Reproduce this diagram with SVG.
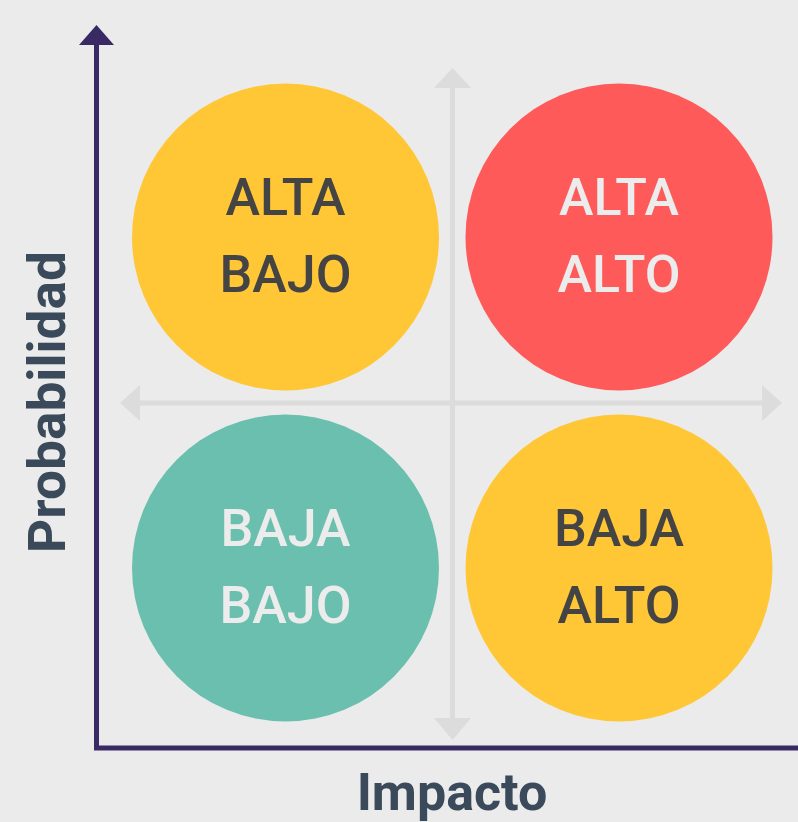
<svg xmlns="http://www.w3.org/2000/svg" width="798" height="822" viewBox="0 0 798 822">
<style>
.lbl{font-family:Roboto,"Liberation Sans",sans-serif;font-size:52px;font-weight:500;text-anchor:middle}
.dark{fill:#444444}
.light{fill:#ececec}
.axislbl{font-family:Roboto,"Liberation Sans",sans-serif;font-size:52px;font-weight:bold;fill:#3a4a5b;text-anchor:middle}
.grid{stroke:#dcdcdc;stroke-width:5;fill:none}
.gridhead{fill:#dcdcdc}
</style>
<rect width="798" height="822" fill="#ebebeb"/>
<g id="connectors">
  <line class="grid" x1="138" y1="403" x2="765" y2="403"/>
  <polygon class="gridhead" points="120,403 140,385 140,421"/>
  <polygon class="gridhead" points="782,403 762,385 762,421"/>
  <line class="grid" x1="452.5" y1="86" x2="452.5" y2="720"/>
  <polygon class="gridhead" points="452.5,68 434,88 471,88"/>
  <polygon class="gridhead" points="452.5,740 434,718 471,718"/>
  <line x1="96.5" y1="43" x2="96.5" y2="750" stroke="#3a2a63" stroke-width="5"/>
  <line x1="94" y1="748" x2="798" y2="748" stroke="#3a2a63" stroke-width="5"/>
  <polygon points="79,45 114,45 96.5,25" fill="#3a2a63"/>
</g>
<g id="n-alta-bajo">
  <circle cx="285.5" cy="237" r="153.5" fill="#ffc636"/>
  <text class="lbl dark" x="285.5" y="215">ALTA</text>
  <text class="lbl dark" x="285.5" y="292">BAJO</text>
</g>
<g id="n-alta-alto">
  <circle cx="619" cy="237" r="153.5" fill="#ff5a5a"/>
  <text class="lbl light" x="619" y="215">ALTA</text>
  <text class="lbl light" x="619" y="292">ALTO</text>
</g>
<g id="n-baja-bajo">
  <circle cx="285.5" cy="568" r="153.5" fill="#6bbfae"/>
  <text class="lbl light" x="285.5" y="546">BAJA</text>
  <text class="lbl light" x="285.5" y="623">BAJO</text>
</g>
<g id="n-baja-alto">
  <circle cx="619" cy="568" r="153.5" fill="#ffc636"/>
  <text class="lbl dark" x="619" y="546">BAJA</text>
  <text class="lbl dark" x="619" y="623">ALTO</text>
</g>
<g id="axis-labels">
  <text class="axislbl" x="452" y="810">Impacto</text>
  <text class="axislbl" transform="translate(65,402) rotate(-90)" x="0" y="0" textLength="302" lengthAdjust="spacingAndGlyphs">Probabilidad</text>
</g>
</svg>
